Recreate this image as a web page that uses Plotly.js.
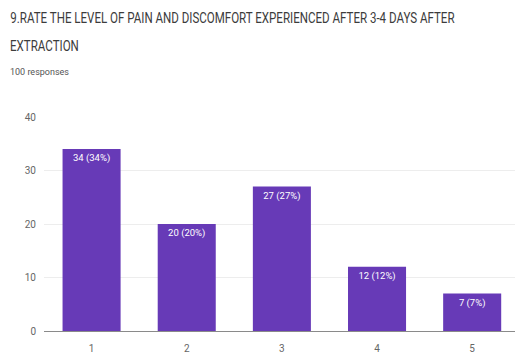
<!DOCTYPE html>
<html>
<head>
<meta charset="utf-8">
<script src="https://cdn.plot.ly/plotly-3.0.1.min.js"></script>
<style>
  html, body { margin: 0; padding: 0; background: #ffffff; }
  #chart { width: 515px; height: 356px; }
  /* condensed lettering for the two question lines, pinned at their left edge */
  #chart .annotation[data-index="0"] .annotation-text,
  #chart .annotation[data-index="1"] .annotation-text {
    transform-box: fill-box;
    transform-origin: 0 50%;
    transform: scaleX(0.77);
  }
</style>
</head>
<body>
<div id="chart"></div>
<script>
// Survey question 9: pain/discomfort rating 3-4 days after extraction
const ratings = ['1', '2', '3', '4', '5'];
const counts = [34, 20, 27, 12, 7];
const totalResponses = 100;
const yTicks = [0, 10, 20, 30, 40];

const titleLine1 = '9.RATE THE LEVEL OF PAIN AND DISCOMFORT EXPERIENCED AFTER 3-4 DAYS AFTER';
const titleLine2 = 'EXTRACTION';
const subtitle = totalResponses + ' responses';

const FONT = 'Roboto, "Liberation Sans", sans-serif';

const barLabels = counts.map(c => c + ' (' + Math.round(c / totalResponses * 100) + '%)');

const trace = {
  type: 'bar',
  x: ratings.map((_, i) => i),
  y: counts,
  text: barLabels,
  textposition: 'inside',
  insidetextanchor: 'end',
  textangle: 0,
  textfont: { family: FONT, size: 9.5, color: '#ffffff' },
  marker: { color: '#673ab7' },
  hoverinfo: 'none'
};

const layout = {
  width: 515,
  height: 356,
  margin: { l: 44, r: 0, t: 117, b: 25 },
  paper_bgcolor: '#ffffff',
  plot_bgcolor: '#ffffff',
  showlegend: false,
  bargap: 0.39,
  font: { family: FONT, color: '#666666' },
  xaxis: {
    range: [-0.5, 4.45],
    tickvals: ratings.map((_, i) => i),
    ticktext: ratings,
    ticks: 'outside',
    ticklen: 8,
    tickcolor: 'rgba(0,0,0,0)',
    tickfont: { family: FONT, size: 10, color: '#666666' },
    showgrid: false,
    showline: true,
    linecolor: '#8a8a8a',
    linewidth: 1,
    zeroline: false,
    fixedrange: true
  },
  yaxis: {
    range: [0, 40],
    tickvals: yTicks,
    ticktext: yTicks.map(String),
    ticks: 'outside',
    ticklen: 5,
    tickcolor: 'rgba(0,0,0,0)',
    tickfont: { family: FONT, size: 10, color: '#666666' },
    showgrid: true,
    gridcolor: '#ededed',
    gridwidth: 1,
    zeroline: false,
    showline: false,
    fixedrange: true
  },
  annotations: [
    {
      text: titleLine1, xref: 'paper', yref: 'paper',
      x: 0, y: 0, xanchor: 'left', yanchor: 'middle',
      showarrow: false,
      font: { family: FONT, size: 15, color: '#3c3c3c' }
    },
    {
      text: titleLine2, xref: 'paper', yref: 'paper',
      x: 0, y: 0, xanchor: 'left', yanchor: 'middle',
      showarrow: false,
      font: { family: FONT, size: 15, color: '#3c3c3c' }
    },
    {
      text: subtitle, xref: 'paper', yref: 'paper',
      x: 0, y: 0, xanchor: 'left', yanchor: 'middle',
      showarrow: false,
      font: { family: FONT, size: 9, color: '#555555' }
    }
  ]
};

// Header lines are positioned in pixels from the top-left of the figure
const plotH = layout.height - layout.margin.t - layout.margin.b;
const plotW = layout.width - layout.margin.l - layout.margin.r;
const headerPos = [[8, 18.5], [8, 46.5], [8, 71.5]];
headerPos.forEach(([px, py], i) => {
  layout.annotations[i].x = (px - layout.margin.l) / plotW;
  layout.annotations[i].y = (layout.height - layout.margin.b - py) / plotH;
});

Plotly.newPlot('chart', [trace], layout, { displayModeBar: false, staticPlot: true });
</script>
</body>
</html>
